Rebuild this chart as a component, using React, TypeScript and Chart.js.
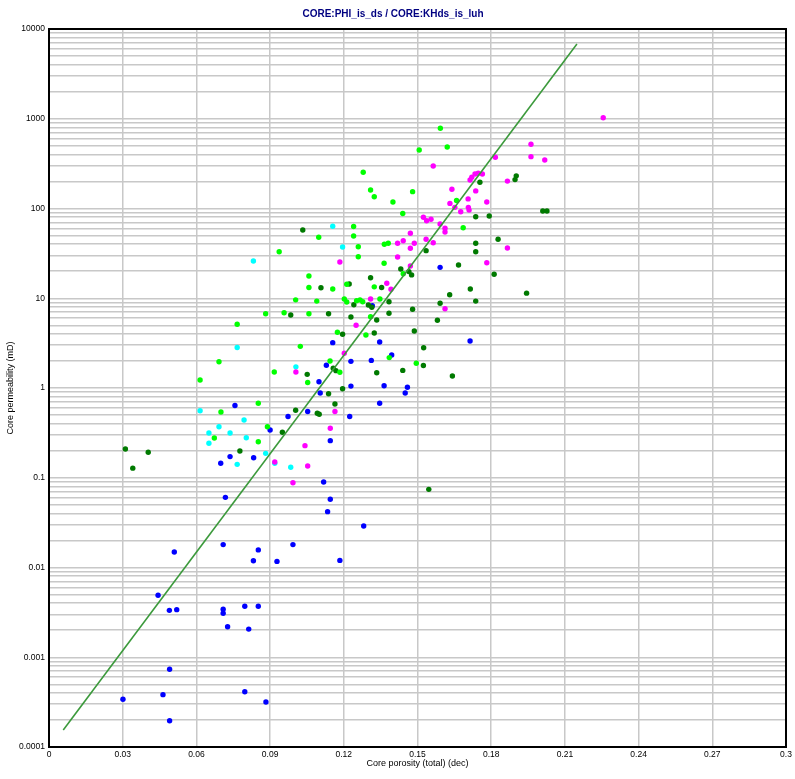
import React, { useEffect, useRef } from 'react';
import { Chart, registerables } from 'chart.js';

Chart.register(...registerables);

const chartTitle = 'CORE:PHI_is_ds / CORE:KHds_is_luh';
const xAxisTitle = 'Core porosity (total) (dec)';
const yAxisTitle = 'Core permeability (mD)';

const xTickLabels = ['0', '0.03', '0.06', '0.09', '0.12', '0.15', '0.18', '0.21', '0.24', '0.27', '0.3'];
const yTickLabels = ['0.0001', '0.001', '0.01', '0.1', '1', '10', '100', '1000', '10000'];

const bluePhi = [0.0757, 0.0973, 0.0900, 0.0737, 0.0833, 0.0699, 0.0718, 0.0709, 0.0993, 0.0510, 0.0852, 0.0832, 0.0928, 0.0444, 0.0490, 0.0520, 0.0709, 0.0709, 0.0797, 0.0852, 0.0727, 0.0813, 0.0491, 0.0464, 0.0301, 0.0797, 0.0883, 0.0491, 0.1316, 0.1155, 0.1346, 0.1714, 0.1395, 0.1229, 0.1312, 0.1129, 0.1099, 0.1229, 0.1364, 0.1459, 0.1450, 0.1104, 0.1346, 0.1053, 0.1224, 0.1592, 0.1145, 0.1118, 0.1145, 0.1134, 0.1281, 0.1184];
const blueK = [0.638, 0.481, 0.340, 0.172, 0.167, 0.145, 0.0605, 0.0180, 0.0180, 0.0149, 0.0157, 0.0119, 0.0117, 0.00490, 0.00333, 0.00339, 0.00342, 0.00309, 0.00370, 0.00370, 0.00219, 0.00206, 0.000735, 0.000383, 0.000340, 0.000413, 0.000317, 0.000196, 8.26, 3.20, 3.25, 3.34, 2.33, 1.98, 2.03, 1.79, 1.175, 1.05, 1.06, 1.02, 0.88, 0.88, 0.675, 0.547, 0.481, 22.1, 0.259, 0.0897, 0.0575, 0.0419, 0.0290, 0.0120];

const cyanPhi = [0.0766, 0.1005, 0.0615, 0.0794, 0.0692, 0.0651, 0.0737, 0.0803, 0.0651, 0.0882, 0.0919, 0.0766, 0.0984, 0.1155, 0.1195, 0.0832];
const cyanK = [2.83, 1.72, 0.558, 0.440, 0.370, 0.315, 0.315, 0.279, 0.242, 0.187, 0.145, 0.141, 0.131, 63.4, 37.2, 26.0];

const magentaPhi = [0.1005, 0.0919, 0.0993, 0.2256, 0.1962, 0.1962, 0.2018, 0.1564, 0.1817, 0.1734, 0.1747, 0.1764, 0.1721, 0.1714, 0.1866, 0.1640, 0.1737, 0.1706, 0.1632, 0.1782, 0.1652, 0.1707, 0.1710, 0.1676, 0.1524, 0.1537, 0.1555, 0.1592, 0.1612, 0.1612, 0.1471, 0.1442, 0.1419, 0.1487, 0.1535, 0.1564, 0.1471, 0.1866, 0.1419, 0.1184, 0.1782, 0.1471, 0.1375, 0.1392, 0.1309, 0.1612, 0.1250, 0.1202, 0.1164, 0.1145, 0.1042, 0.1053];
const magentaK = [1.51, 0.150, 0.088, 1027, 519, 378, 347, 297, 372, 242, 247, 242, 223, 208, 202, 164, 157, 128, 114, 118, 103, 103, 96, 92, 79.8, 73.1, 75.8, 67.2, 60.2, 54.7, 52.9, 43.8, 41.0, 41.0, 45.4, 41.6, 36.0, 36.3, 28.8, 25.3, 24.9, 22.9, 14.7, 12.6, 9.8, 7.65, 5.0, 2.44, 0.547, 0.356, 0.228, 0.135];

const limePhi = [0.0692, 0.0917, 0.0615, 0.0852, 0.0700, 0.0889, 0.0673, 0.0852, 0.1593, 0.1621, 0.1507, 0.1279, 0.1309, 0.1324, 0.1480, 0.1400, 0.1659, 0.1440, 0.1686, 0.1240, 0.1240, 0.1098, 0.1365, 0.1381, 0.1259, 0.0937, 0.1259, 0.1364, 0.1442, 0.1058, 0.1212, 0.1324, 0.1058, 0.1155, 0.1004, 0.1090, 0.1202, 0.1212, 0.1252, 0.1266, 0.1277, 0.1347, 0.0882, 0.0957, 0.1058, 0.1309, 0.0766, 0.1174, 0.1290, 0.1023, 0.1385, 0.1144, 0.1184, 0.1495, 0.1053];
const limeK = [1.96, 1.51, 1.23, 0.675, 0.540, 0.370, 0.277, 0.252, 783, 484, 449, 253, 161, 135, 154, 118, 123, 88, 61, 63, 49.4, 47.8, 39.9, 41.0, 37.5, 33.0, 29.0, 24.5, 18.8, 17.7, 14.3, 13.4, 13.2, 12.7, 9.6, 9.3, 9.8, 9.08, 9.4, 9.6, 9.15, 9.8, 6.73, 6.9, 6.73, 6.23, 5.13, 4.18, 3.89, 2.91, 2.18, 2.0, 1.5, 1.89, 1.15];

const darkGreenPhi = [0.1004, 0.0950, 0.0311, 0.0404, 0.0777, 0.0341, 0.1754, 0.1902, 0.1897, 0.1737, 0.1792, 0.2010, 0.2027, 0.1033, 0.1828, 0.1737, 0.1737, 0.1535, 0.1667, 0.1432, 0.1465, 0.1476, 0.1812, 0.1309, 0.1222, 0.1354, 0.1107, 0.1715, 0.1631, 0.1944, 0.1241, 0.1384, 0.1300, 0.1314, 0.1592, 0.1737, 0.1480, 0.0984, 0.1138, 0.1384, 0.1229, 0.1334, 0.1581, 0.1487, 0.1195, 0.1324, 0.1525, 0.1157, 0.1168, 0.1524, 0.1440, 0.1334, 0.1051, 0.1642, 0.1138, 0.1195, 0.1164, 0.1092, 0.1100, 0.1546];
const darkGreenK = [0.566, 0.321, 0.209, 0.192, 0.199, 0.128, 196, 231, 210, 81, 82.5, 93.8, 93.8, 57.6, 45.4, 41.0, 33.0, 33.9, 23.5, 21.2, 19.8, 18.2, 18.5, 16.9, 14.4, 13.2, 13.1, 12.7, 10.95, 11.4, 8.47, 9.15, 8.4, 7.93, 8.8, 9.3, 7.53, 6.5, 6.73, 6.8, 6.18, 5.72, 5.68, 4.32, 3.97, 4.1, 2.81, 1.66, 1.56, 1.78, 1.57, 1.48, 1.42, 1.36, 0.864, 0.98, 0.664, 0.523, 0.51, 0.0743];

const fitPhi = [0.0058, 0.2149];
const fitK = [0.000155, 6800];

const FONT = '"Liberation Sans", Arial, Helvetica, sans-serif';

const toPoints = (xs: number[], ys: number[]) => xs.map((x, i) => ({ x, y: ys[i] }));

const framePlugin = {
  id: 'frameBox',
  afterDraw(chart: any) {
    const { ctx, chartArea } = chart;
    const { left, top, right, bottom } = chartArea;
    ctx.save();
    ctx.strokeStyle = '#000000';
    ctx.lineWidth = 2;
    ctx.strokeRect(left, top, right - left, bottom - top);
    ctx.restore();
  },
};

function scatterSet(label: string, xs: number[], ys: number[], color: string) {
  return {
    type: 'scatter' as const,
    label,
    data: toPoints(xs, ys),
    backgroundColor: color,
    borderColor: color,
    borderWidth: 0,
    pointRadius: 2.7,
    pointHoverRadius: 2.7,
    showLine: false,
  };
}

export default function App() {
  const canvasRef = useRef<HTMLCanvasElement | null>(null);

  useEffect(() => {
    if (!canvasRef.current) return;
    const isDecade = (v: number) => {
      const l = Math.log10(v);
      return Math.abs(l - Math.round(l)) < 1e-6;
    };
    const chart = new Chart(canvasRef.current, {
      type: 'scatter',
      data: {
        datasets: [
          {
            type: 'scatter',
            label: 'fit',
            data: toPoints(fitPhi, fitK),
            borderColor: '#3c9a3c',
            backgroundColor: '#3c9a3c',
            borderWidth: 1.6,
            pointRadius: 0,
            showLine: true,
            fill: false,
          } as any,
          scatterSet('magenta', magentaPhi, magentaK, '#ff00ff'),
          scatterSet('cyan', cyanPhi, cyanK, '#00ffff'),
          scatterSet('lime', limePhi, limeK, '#00ff00'),
          scatterSet('darkgreen', darkGreenPhi, darkGreenK, '#007a00'),
          scatterSet('blue', bluePhi, blueK, '#0000ff'),
        ],
      },
      options: {
        responsive: false,
        animation: false,
        events: [],
        layout: { padding: { left: 0, right: 9, top: 0, bottom: 0 } },
        plugins: {
          legend: { display: false },
          tooltip: { enabled: false },
          title: {
            display: true,
            text: chartTitle,
            color: '#000080',
            font: { family: FONT, size: 10, weight: 'bold' },
            padding: { top: 8, bottom: 9 },
          },
        },
        scales: {
          x: {
            type: 'linear',
            min: 0,
            max: 0.3,
            afterBuildTicks: (s: any) => {
              s.ticks = xTickLabels.map((l) => ({ value: parseFloat(l) }));
            },
            afterFit: (s: any) => {
              s.height = 32;
            },
            ticks: {
              autoSkip: false,
              maxRotation: 0,
              padding: 3,
              color: '#000000',
              font: { family: FONT, size: 8.5 },
              callback: (_v: any, i: number) => xTickLabels[i],
            },
            grid: { color: '#c8c8c8', lineWidth: 1.5, drawTicks: false },
            border: { display: false },
            title: {
              display: true,
              text: xAxisTitle,
              color: '#000000',
              font: { family: FONT, size: 9 },
              padding: { top: 0, bottom: 10 },
            },
          },
          y: {
            type: 'logarithmic',
            min: 0.0001,
            max: 10000,
            afterBuildTicks: (s: any) => {
              const t: { value: number }[] = [];
              for (let e = -4; e <= 4; e++) {
                for (let m = 1; m <= 9; m++) {
                  if (e === 4 && m > 1) break;
                  t.push({ value: Number((m * Math.pow(10, e)).toPrecision(10)) });
                }
              }
              s.ticks = t;
            },
            afterFit: (s: any) => {
              s.width = 49;
            },
            ticks: {
              autoSkip: false,
              padding: 4,
              color: '#000000',
              font: { family: FONT, size: 8.5 },
              callback: (v: any) => {
                const n = Number(v);
                if (!isDecade(n)) return '';
                return yTickLabels[Math.round(Math.log10(n)) + 4];
              },
            },
            grid: { color: '#c8c8c8', lineWidth: 1.5, drawTicks: false },
            border: { display: false },
            title: {
              display: true,
              text: yAxisTitle,
              color: '#000000',
              font: { family: FONT, size: 9 },
              padding: { top: 5, bottom: 0 },
            },
          },
        },
      } as any,
      plugins: [framePlugin],
    });
    return () => chart.destroy();
  }, []);

  return (
    <div style={{ position: 'absolute', left: 0, top: 0, width: 795, height: 779, background: '#ffffff' }}>
      <canvas ref={canvasRef} width={795} height={779} style={{ display: 'block', width: 795, height: 779 }} />
    </div>
  );
}
